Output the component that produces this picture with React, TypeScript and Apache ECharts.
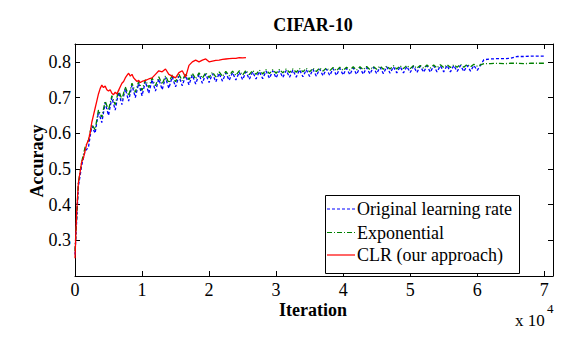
import React, { useEffect, useRef } from "react";
import * as echarts from "echarts";

// ---- Data ----
const seriesNames = ["Original learning rate", "Exponential", "CLR (our approach)"];

// Original learning rate: sampled every 500 iterations from 0 to 60000
const origStep = 500;
const origValues = [
  0.26, 0.45, 0.51, 0.55, 0.56, 0.62, 0.6, 0.66, 0.63, 0.685,
  0.65, 0.7, 0.665, 0.715, 0.68, 0.725, 0.69, 0.735, 0.7, 0.74,
  0.705, 0.745, 0.712, 0.75, 0.718, 0.752, 0.722, 0.756, 0.726, 0.758,
  0.73, 0.76, 0.733, 0.762, 0.736, 0.763, 0.738, 0.765, 0.74, 0.766,
  0.742, 0.767, 0.744, 0.768, 0.746, 0.769, 0.748, 0.77, 0.749, 0.771,
  0.75, 0.772, 0.751, 0.772, 0.752, 0.773, 0.753, 0.774, 0.754, 0.775,
  0.755, 0.775, 0.756, 0.776, 0.757, 0.777, 0.757, 0.778, 0.758, 0.778,
  0.759, 0.779, 0.76, 0.78, 0.761, 0.78, 0.762, 0.781, 0.762, 0.782,
  0.763, 0.782, 0.764, 0.783, 0.765, 0.784, 0.765, 0.784, 0.766, 0.785,
  0.767, 0.785, 0.767, 0.786, 0.768, 0.786, 0.769, 0.787, 0.769, 0.787,
  0.77, 0.788, 0.77, 0.788, 0.771, 0.789, 0.771, 0.789, 0.772, 0.789,
  0.772, 0.79, 0.772, 0.79, 0.773, 0.79, 0.773, 0.79, 0.774, 0.79,
  0.776,
];
// Original learning rate after the step at 60000 (every 1000 iterations)
const origTailStart = 60000;
const origTailStep = 1000;
const origTailValues = [0.776, 0.806, 0.808, 0.809, 0.809, 0.81, 0.815, 0.815, 0.816, 0.816, 0.816];

// Exponential: sampled every 500 iterations from 0 to 60000
const expStep = 500;
const expValues = [
  0.27, 0.46, 0.52, 0.56, 0.58, 0.625, 0.61, 0.665, 0.645, 0.69,
  0.665, 0.705, 0.68, 0.72, 0.695, 0.73, 0.705, 0.74, 0.715, 0.745,
  0.72, 0.75, 0.728, 0.755, 0.733, 0.758, 0.737, 0.761, 0.741, 0.763,
  0.744, 0.765, 0.747, 0.767, 0.75, 0.768, 0.752, 0.769, 0.754, 0.77,
  0.756, 0.771, 0.758, 0.772, 0.759, 0.773, 0.761, 0.774, 0.762, 0.775,
  0.763, 0.776, 0.764, 0.776, 0.765, 0.777, 0.766, 0.778, 0.767, 0.778,
  0.768, 0.779, 0.769, 0.78, 0.77, 0.78, 0.771, 0.781, 0.772, 0.782,
  0.772, 0.782, 0.773, 0.783, 0.774, 0.783, 0.775, 0.784, 0.775, 0.785,
  0.776, 0.785, 0.777, 0.786, 0.777, 0.786, 0.778, 0.787, 0.778, 0.787,
  0.779, 0.788, 0.779, 0.788, 0.78, 0.789, 0.78, 0.789, 0.781, 0.79,
  0.781, 0.79, 0.782, 0.79, 0.782, 0.791, 0.783, 0.791, 0.783, 0.792,
  0.784, 0.792, 0.784, 0.792, 0.785, 0.793, 0.785, 0.793, 0.786, 0.793,
  0.788,
];
// Exponential after 60000 (every 1000 iterations)
const expTailStart = 60000;
const expTailStep = 1000;
const expTailValues = [0.788, 0.795, 0.795, 0.796, 0.795, 0.796, 0.796, 0.795, 0.796, 0.796, 0.796];

// CLR: every 250 iterations from 0 to 10000
const clrStep1 = 250;
const clrValues1 = [
  0.25, 0.38, 0.46, 0.49, 0.52, 0.53, 0.55, 0.57, 0.58, 0.6,
  0.63, 0.65, 0.67, 0.69, 0.71, 0.725, 0.735, 0.728, 0.732, 0.722,
  0.718, 0.722, 0.712, 0.708, 0.715, 0.71, 0.72, 0.73, 0.74, 0.745,
  0.755, 0.762, 0.768, 0.76, 0.765, 0.755, 0.75, 0.745, 0.748, 0.742,
  0.745,
];
// CLR: every 500 iterations from 10500 to 25500
const clrStart2 = 10500;
const clrStep2 = 500;
const clrValues2 = [
  0.748, 0.752, 0.755, 0.765, 0.775, 0.772, 0.78, 0.765, 0.76, 0.755,
  0.77, 0.775, 0.757, 0.79, 0.8, 0.805, 0.8, 0.805, 0.808, 0.8,
  0.802, 0.804, 0.805, 0.807, 0.808, 0.809, 0.81, 0.81, 0.812, 0.811,
  0.812,
];

const xTickLabels = ["0", "1", "2", "3", "4", "5", "6", "7"];
const yTickLabels = ["0.3", "0.4", "0.5", "0.6", "0.7", "0.8"];

function toPairs(start: number, step: number, vals: number[]) {
  return vals.map((v, i) => [start + i * step, v]);
}

const BLUE = "#0000ff";
const GREEN = "#008000";
const RED = "#ff0000";
const SERIF = "Liberation Serif";

export default function App() {
  const ref = useRef<HTMLDivElement>(null);
  useEffect(() => {
    if (!ref.current) return;
    const chart = echarts.init(ref.current, null, { renderer: "svg" });
    const origData = toPairs(0, origStep, origValues).concat(
      toPairs(origTailStart, origTailStep, origTailValues)
    );
    const expData = toPairs(0, expStep, expValues).concat(
      toPairs(expTailStart, expTailStep, expTailValues)
    );
    const clrData = toPairs(0, clrStep1, clrValues1).concat(
      toPairs(clrStart2, clrStep2, clrValues2)
    );
    const axisLine = { show: true, onZero: false, lineStyle: { color: "#000", width: 1 } };
    const tick = { show: true, inside: true, length: 5, lineStyle: { color: "#000" } };
    const labelStyle = { color: "#000", fontFamily: SERIF, fontSize: 18 };
    const txt = (
      text: string,
      x: number,
      y: number,
      size: number,
      bold: boolean,
      align: string,
      extra: any = {}
    ) => ({
      type: "text",
      x,
      y,
      ...extra,
      style: {
        text,
        fill: "#000",
        fontFamily: SERIF,
        fontSize: size,
        fontWeight: bold ? "bold" : "normal",
        textAlign: align,
        textVerticalAlign: "middle",
      },
    });
    chart.setOption({
      animation: false,
      backgroundColor: "#fff",
      grid: { left: 75, right: 26, top: 44, bottom: 61, containLabel: false },
      xAxis: [
        {
          type: "value",
          position: "bottom",
          min: 0,
          max: 71300,
          interval: 10000,
          axisLine,
          axisTick: tick,
          splitLine: { show: false },
          axisLabel: {
            ...labelStyle,
            margin: 5,
            showMaxLabel: false,
            formatter: (v: number) => {
              const i = Math.round(v / 10000);
              return Math.abs(v - i * 10000) < 1 ? xTickLabels[i] ?? "" : "";
            },
          },
        },
        {
          type: "value",
          position: "top",
          min: 0,
          max: 71300,
          interval: 10000,
          axisLine,
          axisTick: tick,
          splitLine: { show: false },
          axisLabel: { show: false },
        },
      ],
      yAxis: [
        {
          type: "value",
          position: "left",
          min: 0.2,
          max: 0.85,
          interval: 0.1,
          axisLine,
          axisTick: tick,
          splitLine: { show: false },
          axisLabel: {
            ...labelStyle,
            margin: 4,
            showMaxLabel: false,
            formatter: (v: number) => {
              const s = v.toFixed(1);
              return yTickLabels.includes(s) ? s : "";
            },
          },
        },
        {
          type: "value",
          position: "right",
          min: 0.2,
          max: 0.85,
          interval: 0.1,
          axisLine,
          axisTick: tick,
          splitLine: { show: false },
          axisLabel: { show: false },
        },
      ],
      series: [
        {
          name: seriesNames[0],
          type: "line",
          data: origData,
          showSymbol: false,
          symbol: "none",
          lineStyle: { color: BLUE, width: 1.3, type: [3, 2] },
        },
        {
          name: seriesNames[1],
          type: "line",
          data: expData,
          showSymbol: false,
          symbol: "none",
          lineStyle: { color: GREEN, width: 1.3, type: [5, 2, 1, 2] },
        },
        {
          name: seriesNames[2],
          type: "line",
          data: clrData,
          showSymbol: false,
          symbol: "none",
          lineStyle: { color: RED, width: 1.3 },
        },
      ],
      graphic: [
        txt("CIFAR-10", 313, 25, 18, true, "center"),
        txt("Iteration", 313, 310, 18, true, "center"),
        txt("Accuracy", 37, 161, 18, true, "center", { rotation: Math.PI / 2 }),
        txt("x 10", 515, 320, 17, false, "left"),
        txt("4", 547, 308, 13, false, "left"),
        {
          type: "rect",
          shape: { x: 325.5, y: 195.5, width: 194, height: 78 },
          style: { fill: "#fff", stroke: "#000", lineWidth: 1 },
          z: 100,
        },
        {
          type: "line",
          shape: { x1: 327, y1: 209, x2: 355, y2: 209 },
          style: { stroke: BLUE, lineWidth: 1.2, lineDash: [3, 2] },
          z: 101,
        },
        {
          type: "line",
          shape: { x1: 327, y1: 232.5, x2: 355, y2: 232.5 },
          style: { stroke: GREEN, lineWidth: 1.2, lineDash: [5, 2, 1, 2] },
          z: 101,
        },
        {
          type: "line",
          shape: { x1: 327, y1: 255, x2: 355, y2: 255 },
          style: { stroke: RED, lineWidth: 1.2 },
          z: 101,
        },
        { ...txt(seriesNames[0], 357, 209, 18, false, "left"), z: 101 },
        { ...txt(seriesNames[1], 357, 232.5, 18, false, "left"), z: 101 },
        { ...txt(seriesNames[2], 357, 255, 18, false, "left"), z: 101 },
      ],
    });
    return () => chart.dispose();
  }, []);
  return (
    <div
      ref={ref}
      style={{ position: "absolute", left: 0, top: 0, width: 579, height: 337, background: "#fff" }}
    />
  );
}
